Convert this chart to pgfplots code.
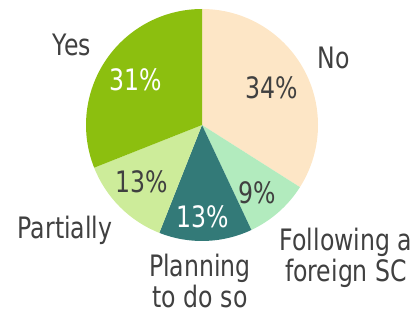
\documentclass[border=0pt]{standalone}
\usepackage{pgfplots}
\pgfplotsset{compat=1.18}
\usepackage{fontspec}
\setmainfont{DejaVu Sans}[FakeStretch=0.8]
\definecolor{cNo}{HTML}{FDE6C6}
\definecolor{cFol}{HTML}{B2EBBE}
\definecolor{cPlan}{HTML}{337A78}
\definecolor{cPart}{HTML}{CDEC9A}
\definecolor{cYes}{HTML}{8CBF0F}
\definecolor{txt}{HTML}{404040}
\begin{document}
\begin{tikzpicture}
\begin{axis}[scale only axis, width=418bp, height=313bp,
  xmin=-1.7414, xmax=1.8621, ymin=-1.6207, ymax=1.0776,
  hide axis, clip=false]
\path (rel axis cs:0,0) rectangle (rel axis cs:1,1);
\pgfplotsextra{
  \foreach \v/\c [remember=\e as \s (initially 90)] in {34/cNo, 9/cFol, 13/cPlan, 13/cPart, 31/cYes} {
    \pgfmathsetmacro\e{\s-3.6*\v}
    \fill[\c] (axis cs:0,0) -- (axis cs:{cos(\s)},{sin(\s)}) arc[start angle=\s, end angle=\e, radius=116bp] -- cycle;
  }
}
\tikzset{lab/.style={font=\fontsize{29.5bp}{30.5bp}\selectfont, text=txt, align=center, inner sep=0pt}}
\node[lab] at (axis cs:-1.121,0.690) {Yes};
\node[lab,text=white] at (axis cs:-0.569,0.388) {31\%};
\node[lab] at (axis cs:1.138,0.578) {No};
\node[lab] at (axis cs:0.603,0.319) {34\%};
\node[lab] at (axis cs:0.474,-0.586) {9\%};
\node[lab] at (axis cs:-0.517,-0.491) {13\%};
\node[lab,text=white] at (axis cs:0.009,-0.793) {13\%};
\node[lab] at (axis cs:-1.181,-0.905) {Partially};
\node[lab] at (axis cs:-0.017,-1.345) {Planning\\to do so};
\node[lab] at (axis cs:1.241,-1.147) {Following a\\foreign SC};
\end{axis}
\end{tikzpicture}
\end{document}
